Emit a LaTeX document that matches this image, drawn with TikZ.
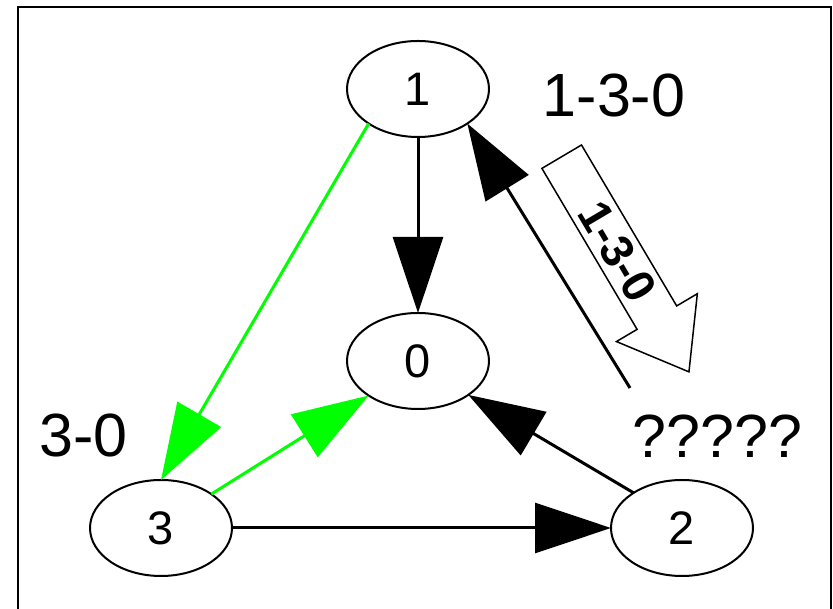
\documentclass[tikz,border=0pt]{standalone}
\usepackage{fontspec}
\setmainfont{Liberation Sans}
\usetikzlibrary{positioning}
\usetikzlibrary{shapes.geometric}
\usetikzlibrary{arrows.meta}
\definecolor{pathgreen}{RGB}{0,255,0}

\begin{document}
\begin{tikzpicture}[x=1pt,y=1pt,
 vertex/.style = {draw, ellipse, line width=2pt, minimum width=142pt,
 minimum height=96pt, inner sep=0pt, outer sep=0pt,
 font=\fontsize{47}{50}\selectfont},
 biglabel/.style = {inner sep=0pt, font=\fontsize{61}{64}\selectfont},
 hop/.style = {line width=3pt, -{Triangle[length=76pt,width=50pt]}},
 greenhop/.style = {hop, pathgreen}]
\useasboundingbox (0,0) rectangle (833,609);
\draw[line width=2pt] (18,-20) rectangle (831,601.5);

\node[vertex] (n1) at (418,520) {1};
\node[vertex] (n0) at (418,248) {0};
\node[vertex] (n3) at (161,81) {3};
\node[vertex] (n2) at (682,81) {2};

\node[biglabel] (l130) at (614,513) {1-3-0};
\node[biglabel] (l30) at (83.5,173) {3-0};
\node[biglabel] (lq) at (717.5,173) {?????};

\coordinate (c21) at (630,221);

\draw[hop] (n1) -- (n0);
\draw[greenhop] (n1.215) -- (n3.north);
\draw[greenhop] (n3.34) -- (n0.215);
\draw[hop] (n3) -- (n2);
\draw[hop] (n2.144) -- (n0.-34);
\draw[hop] (c21) -- (n1.-35);

\begin{scope}[shift={(561.7,452.3)}, rotate=-59.4]
\draw[line width=1.5pt] (0,23) -- (187,23) -- (187,47) -- (250,0)
 -- (187,-47) -- (187,-23) -- (0,-23) -- cycle;
\node[rotate=-59.4, inner sep=0pt, font=\fontsize{46}{48}\bfseries\selectfont]
 (route) at (110,0) {1-3-0};
\end{scope}
\end{tikzpicture}
\end{document}
